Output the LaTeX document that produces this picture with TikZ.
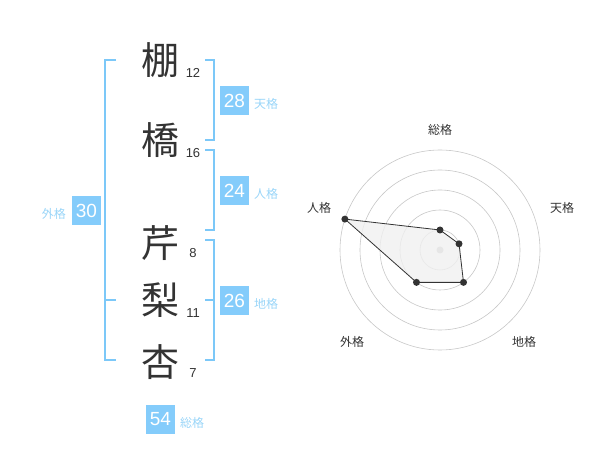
\documentclass[tikz,border=0pt]{standalone}
\usepackage{fontspec}
\setmainfont{Liberation Sans}
\newfontfamily\cjk{Noto Sans CJK JP}
\definecolor{brk}{HTML}{7CC8F8}
\definecolor{boxc}{HTML}{84CCFB}
\definecolor{lblc}{HTML}{99D5F8}
\definecolor{ink}{HTML}{333333}
\begin{document}
\begin{tikzpicture}[x=1pt,y=-1pt,
  kanji/.style={inner sep=0pt,text=ink,font=\cjk\fontsize{38}{38}\selectfont},
  strokes/.style={inner sep=0pt,text=ink,font=\fontsize{13}{13}\selectfont},
  valbox/.style={fill=boxc,text=white,minimum width=29pt,minimum height=29pt,inner sep=0pt,font=\fontsize{19}{19}\selectfont},
  kaku/.style={inner sep=0pt,text=lblc,font=\cjk\fontsize{12}{12}\selectfont},
  bracket/.style={draw=brk,line width=2pt},
  ring/.style={draw=black!22,line width=0.6pt},
  axislbl/.style={inner sep=0pt,text=ink,font=\cjk\fontsize{12}{12}\selectfont},
  dot/.style={circle,fill=ink,inner sep=0pt,minimum size=7pt}]
\useasboundingbox (0,0) rectangle (600,470);
% characters
\node[kanji] (c1) at (160,60) {棚};
\node[kanji] (c2) at (160,140) {橋};
\node[kanji] (c3) at (160,243) {芹};
\node[kanji] (c4) at (160,300) {梨};
\node[kanji] (c5) at (160,362) {杏};
\node[strokes] (s1) at (193,73) {12};
\node[strokes] (s2) at (193,153) {16};
\node[strokes] (s3) at (193,253) {8};
\node[strokes] (s4) at (193,313) {11};
\node[strokes] (s5) at (193,373) {7};
% right brackets
\draw[bracket] (205,60) -- (214,60) -- (214,140) -- (205,140);
\draw[bracket] (205,150) -- (214,150) -- (214,230) -- (205,230);
\draw[bracket] (205,240) -- (214,240) -- (214,360) -- (205,360);
\draw[bracket] (205,300) -- (214,300);
% left bracket
\draw[bracket] (116,60) -- (105,60) -- (105,360) -- (116,360);
\draw[bracket] (105,300) -- (116,300);
% value boxes
\node[valbox] (b28) at (234.5,100.5) {28};
\node[kaku,anchor=west] (l28) at (254,104) {天格};
\node[valbox] (b24) at (234.5,190.5) {24};
\node[kaku,anchor=west] (l24) at (254,194) {人格};
\node[valbox] (b26) at (234.5,300.5) {26};
\node[kaku,anchor=west] (l26) at (254,304) {地格};
\node[valbox] (b30) at (86.5,210.5) {30};
\node[kaku,anchor=east] (l30) at (66,214) {外格};
\node[valbox] (b54) at (160.5,419.5) {54};
\node[kaku,anchor=west] (l54) at (180,423) {総格};
% radar axis labels
\node[axislbl] (a1) at (440,130) {総格};
\node[axislbl] (a2) at (562,208) {天格};
\node[axislbl] (a3) at (524,342) {地格};
\node[axislbl] (a4) at (352,342) {外格};
\node[axislbl] (a5) at (319,208) {人格};
% radar
\begin{scope}[shift={(440,250)},yscale=-1]
  \foreach \r in {20,40,60,80,100} \draw[ring] (0,0) circle[radius=\r];
  \fill[black!25] (0,0) circle[radius=3.5];
  \coordinate (p1) at (90:20);
  \coordinate (p2) at (18:20);
  \coordinate (p3) at (-54:40);
  \coordinate (p4) at (-126:40);
  \coordinate (p5) at (162:100);
  \filldraw[fill=black!6,fill opacity=0.8,draw=ink,line width=0.8pt] (p1) -- (p2) -- (p3) -- (p4) -- (p5) -- cycle;
  \foreach \p in {p1,p2,p3,p4,p5} \node[dot] at (\p) {};
\end{scope}
\end{tikzpicture}
\end{document}
